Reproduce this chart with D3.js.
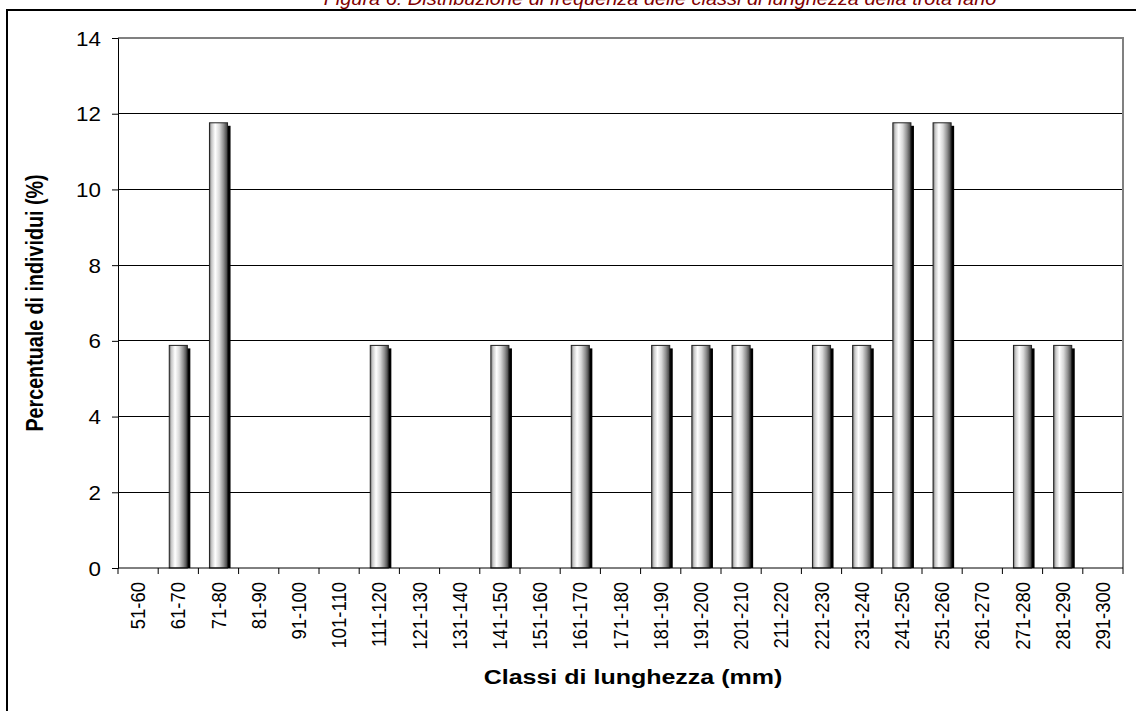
<!DOCTYPE html>
<html>
<head>
<meta charset="utf-8">
<script src="https://cdn.jsdelivr.net/npm/d3@7"></script>
<style>
  html, body { margin: 0; padding: 0; background: #fff; }
  svg { display: block; font-family: Arial, "Liberation Sans", sans-serif; }
</style>
</head>
<body>
<svg id="chart" width="1136" height="711"></svg>
<script>
const categories = ["51-60","61-70","71-80","81-90","91-100","101-110","111-120","121-130","131-140","141-150","151-160","161-170","171-180","181-190","191-200","201-210","211-220","221-230","231-240","241-250","251-260","261-270","271-280","281-290","291-300"];
const values = [0,5.88,11.76,0,0,0,5.88,0,0,5.88,0,5.88,0,5.88,5.88,5.88,0,5.88,5.88,11.76,11.76,0,5.88,5.88,0];
const yTicks = [0,2,4,6,8,10,12,14];
const titleText = "Figura 6: Distribuzione di frequenza delle classi di lunghezza della trota fario";
const xTitle = "Classi di lunghezza (mm)";
const yTitle = "Percentuale di individui (%)";

const svg = d3.select("#chart");
const plot = {left: 118, right: 1123, top: 38, bottom: 568};

const x = d3.scaleBand().domain(categories).range([plot.left, plot.right]).paddingInner(0).paddingOuter(0);
const y = d3.scaleLinear().domain([0, 14]).range([plot.bottom, plot.top]);

// gradient
const defs = svg.append("defs");
const grad = defs.append("linearGradient").attr("id", "barGrad").attr("x1", "0%").attr("x2", "100%").attr("y1", "0%").attr("y2", "0%");
[["0%","#6a6a6a"],["12%","#c8c8c8"],["32%","#ffffff"],["55%","#d8d8d8"],["78%","#909090"],["100%","#3a3a3a"]].forEach(([o,c]) => grad.append("stop").attr("offset", o).attr("stop-color", c));

// outer border
svg.append("rect").attr("x", 7).attr("y", 10).attr("width", 1140).attr("height", 720)
  .attr("fill", "none").attr("stroke", "#000").attr("stroke-width", 2);

// title (partially cut off at the top, as in the reference)
svg.append("text").attr("transform", "translate(660,5) scale(1.05,1)").attr("text-anchor", "middle")
  .attr("font-size", 19).attr("font-style", "italic").attr("fill", "#800000").text(titleText);

// gridlines
svg.append("g").selectAll("line").data(yTicks.filter(d => d > 0 && d < 14)).join("line")
  .attr("x1", plot.left).attr("x2", plot.right)
  .attr("y1", d => y(d)).attr("y2", d => y(d))
  .attr("stroke", "#000").attr("stroke-width", 1).attr("shape-rendering", "crispEdges");

// plot area border top/right (gray)
svg.append("path")
  .attr("d", `M${plot.left},${y(14)}H${plot.right}V${plot.bottom}`)
  .attr("fill", "none").attr("stroke", "#808080").attr("stroke-width", 2);

// bars
const bw = x.bandwidth() * 0.45;
const barData = categories.map((c, i) => ({c, v: values[i]})).filter(d => d.v > 0);
const bars = svg.append("g");
bars.selectAll("rect.shadow").data(barData).join("rect").attr("class", "shadow")
  .attr("x", d => x(d.c) + (x.bandwidth() - bw) / 2 + 3)
  .attr("y", d => y(d.v) + 3)
  .attr("width", bw)
  .attr("height", d => y(0) - y(d.v) - 3)
  .attr("fill", "#000");
bars.selectAll("rect.bar").data(barData).join("rect").attr("class", "bar")
  .attr("x", d => x(d.c) + (x.bandwidth() - bw) / 2)
  .attr("y", d => y(d.v))
  .attr("width", bw)
  .attr("height", d => y(0) - y(d.v))
  .attr("fill", "url(#barGrad)").attr("stroke", "#222").attr("stroke-width", 1);

// y axis
const yAxis = d3.axisLeft(y).tickValues(yTicks).tickSize(6).tickPadding(8).tickFormat(d3.format("d"));
const gy = svg.append("g").attr("transform", `translate(${plot.left},0)`).call(yAxis);
gy.select(".domain").attr("stroke", "#000");
gy.selectAll(".tick line").attr("stroke", "#000");
gy.selectAll(".tick text")
  .attr("x", null).attr("dy", null)
  .attr("transform", "translate(-17,0) scale(1.12,1)")
  .attr("dominant-baseline", "central")
  .attr("font-size", 20).attr("fill", "#000").attr("font-family", "Arial, 'Liberation Sans', sans-serif");

// x axis
const gx = svg.append("g").attr("transform", `translate(0,${plot.bottom})`);
gx.append("line").attr("x1", plot.left).attr("x2", plot.right).attr("y1", 0).attr("y2", 0).attr("stroke", "#000");
const boundaries = categories.map(c => x(c)).concat([plot.right]);
gx.selectAll("line.tk").data(boundaries).join("line").attr("class", "tk")
  .attr("x1", d => d).attr("x2", d => d).attr("y1", 0).attr("y2", 6).attr("stroke", "#000");
gx.selectAll("text").data(categories).join("text")
  .attr("transform", d => `translate(${x(d) + x.bandwidth() / 2},14) scale(1.1,1) rotate(-90)`)
  .attr("text-anchor", "end").attr("dy", "0.35em")
  .attr("font-size", 18.5).attr("fill", "#000").text(d => d);

// axis titles
svg.append("text").attr("transform", "translate(633,684) scale(1.22,1)").attr("text-anchor", "middle")
  .attr("font-size", 20.5).attr("font-weight", "bold").text(xTitle);
svg.append("text").attr("transform", "translate(43,303) scale(1.25,1) rotate(-90)").attr("text-anchor", "middle")
  .attr("font-size", 19.7).attr("font-weight", "bold").text(yTitle);
</script>
</body>
</html>
